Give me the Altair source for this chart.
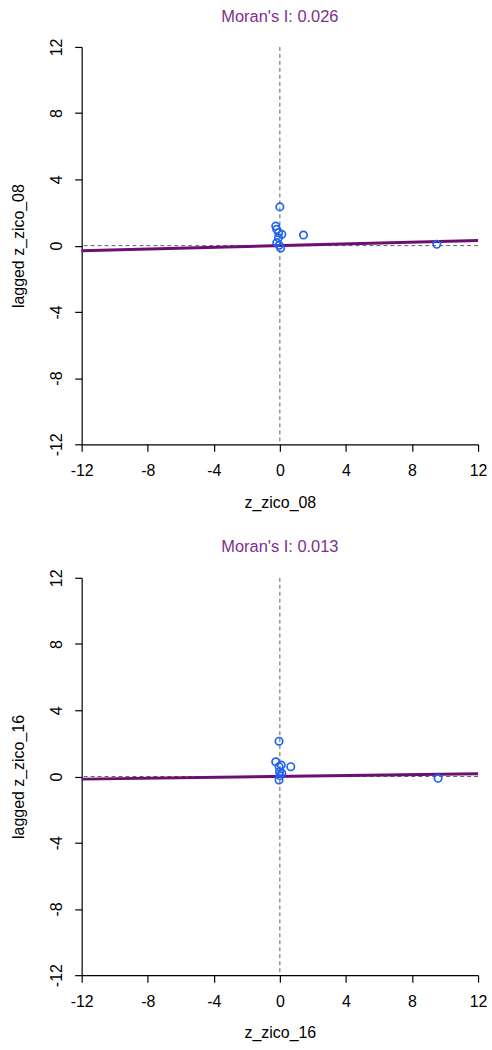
import altair as alt
import pandas as pd

# ---- data ----
titles = ["Moran's I: 0.026", "Moran's I: 0.013"]
x_labels = ["z_zico_08", "z_zico_16"]
y_labels = ["lagged z_zico_08", "lagged z_zico_16"]

x08 = [0.00, -0.25, -0.19, -0.08, 0.12, -0.08, -0.19, -0.04, 0.05, 1.43, 9.50]
y08 = [2.34, 1.18, 0.98, 0.78, 0.68, 0.48, 0.18, 0.02, -0.15, 0.64, 0.08]

x16 = [-0.05, -0.25, -0.05, 0.08, -0.02, 0.12, -0.05, 0.00, 0.66, 9.58]
y16 = [2.13, 0.89, 0.59, 0.69, 0.29, 0.19, -0.21, 0.05, 0.59, -0.11]

fit_x = [-12, 12]
fit08_y = [-0.31, 0.31]
fit16_y = [-0.16, 0.16]

ticks = [-12, -8, -4, 0, 4, 8, 12]

FONT = "Liberation Sans"
PURPLE_T = "#7E2F8E"
PURPLE_L = "#6C0F72"
BLUE = "#1F63F0"
LBL = "datum.value < 0 ? '-' + abs(datum.value) : '' + datum.value"


def panel(xs, ys, fy, title, xl, yl):
    pts = pd.DataFrame({"x": xs, "y": ys})
    fit = pd.DataFrame({"x": fit_x, "y": fy})
    xs_ = alt.Scale(domain=[-12, 12], nice=False, zero=False)
    ys_ = alt.Scale(domain=[-12, 12], nice=False, zero=False)
    xax = alt.Axis(values=ticks, title=xl, grid=False, tickSize=7,
                   labelPadding=11, titlePadding=16, labelFlush=False,
                   labelExpr=LBL)
    yax = alt.Axis(values=ticks, title=yl, grid=False, tickSize=7,
                   labelAngle=270, labelAlign="center", labelBaseline="bottom",
                   labelPadding=10, titlePadding=22, labelFlush=False,
                   labelExpr=LBL)

    vline = alt.Chart(pd.DataFrame({"x": [0]})).mark_rule(
        color="#606060", strokeDash=[4, 3], strokeWidth=1
    ).encode(x=alt.X("x:Q", scale=xs_, axis=xax))
    hline = alt.Chart(pd.DataFrame({"y": [0]})).mark_rule(
        color="#606060", strokeDash=[4, 3], strokeWidth=1
    ).encode(y=alt.Y("y:Q", scale=ys_, axis=yax))
    line = alt.Chart(fit).mark_line(color=PURPLE_L, strokeWidth=3).encode(
        x=alt.X("x:Q", scale=xs_, axis=xax),
        y=alt.Y("y:Q", scale=ys_, axis=yax),
    )
    points = alt.Chart(pts).mark_point(
        shape="circle", filled=False, color=BLUE, size=55, strokeWidth=1.7,
        opacity=1
    ).encode(
        x=alt.X("x:Q", scale=xs_, axis=xax),
        y=alt.Y("y:Q", scale=ys_, axis=yax),
    )
    return alt.layer(vline, hline, line, points).properties(
        width=398, height=399,
        title=alt.TitleParams(title, color=PURPLE_T, fontSize=16.5,
                              fontWeight="normal", font=FONT, anchor="middle",
                              offset=13),
    )


top = panel(x08, y08, fit08_y, titles[0], x_labels[0], y_labels[0])
bot = panel(x16, y16, fit16_y, titles[1], x_labels[1], y_labels[1])

chart = alt.vconcat(top, bot, spacing=29).properties(
    padding={"left": 11, "top": 6, "right": 5, "bottom": 5}
).configure_view(stroke=None).configure_axis(
    labelFont=FONT, titleFont=FONT, labelFontSize=16, titleFontSize=16,
    labelColor="#000000", titleColor="#000000", titleFontWeight="normal",
    domainColor="#000000", tickColor="#000000", domainWidth=1.2, tickWidth=1.2,
)

chart.save("out.html", embed_options={"renderer": "svg", "actions": False})
